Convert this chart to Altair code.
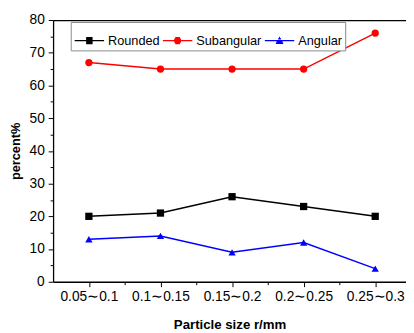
import altair as alt
import pandas as pd

categories = ["0.05∼0.1", "0.1∼0.15", "0.15∼0.2", "0.2∼0.25", "0.25∼0.3"]
series_names = ["Rounded", "Subangular", "Angular"]
rounded = [20, 21, 26, 23, 20]
subangular = [67, 65, 65, 65, 76]
angular = [13, 14, 9, 12, 4]
colors = ["#000000", "#ff0000", "#0000ff"]
shapes = ["square", "circle", "triangle-up"]
legend_shapes = [
    "M-1,0H1M-0.22,-0.19H0.22M-0.22,-0.1H0.22M-0.22,0.1H0.22M-0.22,0.19H0.22",
    "M-1,0H1M-0.16,-0.19H0.16M-0.23,-0.1H0.23M-0.23,0.1H0.23M-0.16,0.19H0.16",
    "M-1,0H1M-0.03,-0.22H0.03M-0.09,-0.12H0.09M-0.2,0.1H0.2M-0.25,0.18H0.25",
]

rows = []
for name, vals in zip(series_names, [rounded, subangular, angular]):
    for i, v in enumerate(vals):
        rows.append({"idx": i, "cat": categories[i], "series": name, "value": v})
df = pd.DataFrame(rows)

FONT = "Liberation Sans"
cat_arr = "[" + ",".join("'" + c + "'" for c in categories) + "]"

x_scale = alt.Scale(domain=[-0.5, 4.43], nice=False, zero=False)
y_scale = alt.Scale(domain=[0, 80], nice=False)
color_scale = alt.Scale(domain=series_names, range=colors)

x_axis = alt.Axis(
    title="Particle size r/mm",
    values=[0, 0.5, 1, 1.5, 2, 2.5, 3, 3.5, 4],
    labelExpr="datum.value % 1 == 0 ? " + cat_arr + "[datum.value] : ''",
    tickSize={"condition": {"test": "datum.value % 1 == 0", "value": 5}, "value": 3},
    labelPadding=3,
    labelFontSize=14,
    labelOverlap=False,
    titleFontSize=13.5,
    titleFontWeight="bold",
    titlePadding=15,
    labelFlush=False,
)
y_axis = alt.Axis(
    title="percent%",
    values=list(range(0, 81, 5)),
    labelExpr="datum.value % 10 == 0 ? datum.label : ''",
    tickSize={"condition": {"test": "datum.value % 10 == 0", "value": 5}, "value": 3},
    labelPadding=4,
    labelFontSize=14,
    labelOverlap=False,
    titleFontSize=13,
    titleFontWeight="bold",
    titlePadding=7,
)


def make_legend():
    return alt.Legend(
        title=None,
        orient="none",
        legendX=18,
        legendY=2,
        direction="horizontal",
        columns=3,
        columnPadding=0,
        labelOffset=3,
        padding=3,
        strokeColor="#888888",
        fillColor="white",
        labelFont=FONT,
        labelFontSize=13,
        labelColor="black",
        symbolSize=900,
        symbolStrokeWidth=1.5,
        symbolOpacity=1,
    )


base = alt.Chart(df)

lines = base.mark_line(strokeWidth=1.5).encode(
    x=alt.X("idx:Q", scale=x_scale, axis=x_axis),
    y=alt.Y("value:Q", scale=y_scale, axis=y_axis),
    color=alt.Color("series:N", scale=color_scale, legend=None),
    detail="series:N",
)

points = base.mark_point(filled=True, size=55, opacity=1).encode(
    x=alt.X("idx:Q", scale=x_scale, axis=None),
    y=alt.Y("value:Q", scale=y_scale, axis=y_axis),
    color=alt.Color("series:N", scale=color_scale, legend=None),
    shape=alt.Shape("series:N", scale=alt.Scale(domain=series_names, range=shapes), legend=None),
)

legend_layer = base.transform_filter("false").mark_point(
    size=900, strokeWidth=1.5, opacity=1, filled=False
).encode(
    x=alt.X("idx:Q", scale=x_scale, axis=None),
    y=alt.Y("value:Q", scale=y_scale, axis=y_axis),
    stroke=alt.Stroke("series:N", scale=alt.Scale(domain=series_names, range=colors), legend=make_legend()),
    shape=alt.Shape("series:N", scale=alt.Scale(domain=series_names, range=legend_shapes), legend=make_legend()),
)

top = base.mark_point(opacity=0).encode(
    x=alt.X("idx:Q", scale=x_scale, axis=alt.Axis(orient="top", title=None, labels=False, ticks=False, domain=True)),
    y=alt.Y("value:Q", scale=y_scale, axis=y_axis),
)

chart = (
    alt.layer(lines, points, legend_layer, top)
    .resolve_axis(x="independent")
    .resolve_scale(shape="independent", stroke="independent")
    .properties(
        width=360,
        height=267,
        autosize=alt.AutoSizeParams(type="none"),
        padding={"left": 46, "top": 9, "right": 0, "bottom": 49},
    )
    .configure_view(strokeWidth=0)
    .configure_axis(
        grid=False,
        domainColor="black",
        domainWidth=1.3,
        tickColor="black",
        tickWidth=1,
        labelColor="black",
        titleColor="black",
        labelFont=FONT,
        titleFont=FONT,
    )
)

chart.save("out.html", embed_options={"renderer": "svg", "actions": False})
